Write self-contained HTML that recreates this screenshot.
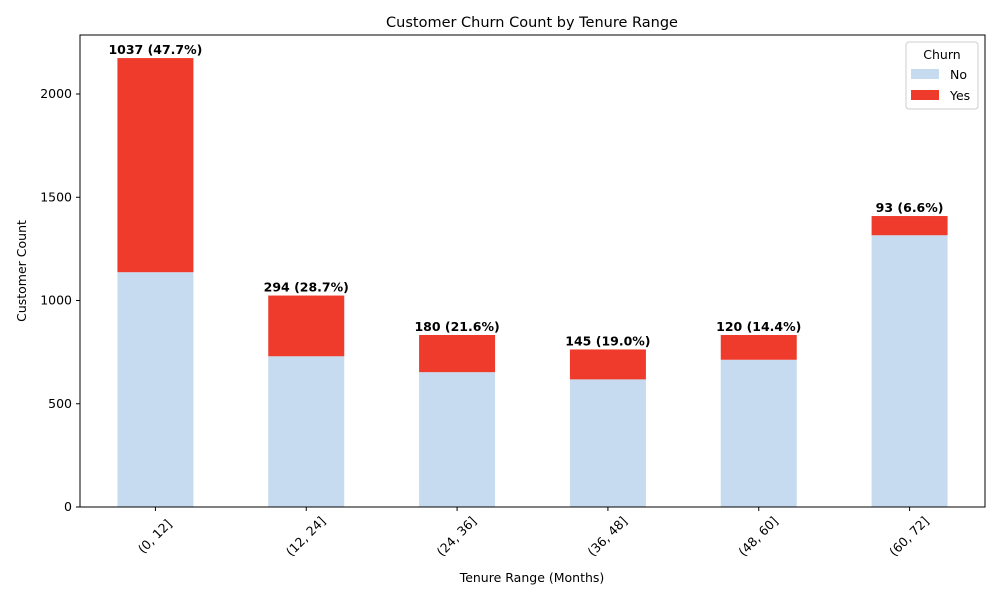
<!DOCTYPE html>
<html><head><meta charset="utf-8"><style>
body{margin:0;background:#fff;font-family:"Liberation Sans","DejaVu Sans",sans-serif}
</style></head><body>
<svg id="chart" width="1000" height="600" xmlns="http://www.w3.org/2000/svg" font-family="DejaVu Sans, Liberation Sans, sans-serif">
<rect width="1000" height="600" fill="#fff"/>
<text x="532" y="27" text-anchor="middle" font-size="14.5">Customer Churn Count by Tenure Range</text>
<g id="bars"></g>
<rect x="80" y="35" width="905" height="472" fill="none" stroke="#000" stroke-width="1"/>
<g id="axes" font-size="12"></g>
<text x="532" y="582" text-anchor="middle" font-size="12.5">Tenure Range (Months)</text>
<text transform="translate(26,271) rotate(-90)" text-anchor="middle" font-size="12.5">Customer Count</text>
<g>
<rect x="906" y="42" width="72" height="67" rx="3" fill="#fff" stroke="#ccc"/>
<text x="942" y="59" text-anchor="middle" font-size="12.5">Churn</text>
<rect x="911" y="69" width="28" height="10" fill="#c6dbef"/>
<text x="950" y="79" font-size="12.5">No</text>
<rect x="911" y="90" width="28" height="10" fill="#ef3b2c"/>
<text x="950" y="100" font-size="12.5">Yes</text>
</g>
</svg>
<script>
const categories=["(0, 12]","(12, 24]","(24, 36]","(36, 48]","(48, 60]","(60, 72]"];
const noValues=[1137,730,653,618,713,1316];
const yesValues=[1037,294,180,145,120,93];
const yTicks=[0,500,1000,1500,2000];
const NS="http://www.w3.org/2000/svg";
const x0=80,w=905,yBase=507,scale=413/2000;
const band=w/categories.length,bw=76;
const xc=i=>x0+band*(i+0.5);
const y=v=>yBase-v*scale;
const bars=document.getElementById('bars'),axes=document.getElementById('axes');
function mk(tag,attrs,parent){const e=document.createElementNS(NS,tag);for(const k in attrs)e.setAttribute(k,attrs[k]);parent.appendChild(e);return e;}
categories.forEach((c,i)=>{
  const n=noValues[i],s=yesValues[i],t=n+s;
  const r1=mk('rect',{x:xc(i)-bw/2,y:y(n),width:bw,height:n*scale,fill:'#c6dbef'},bars);
  
  
  const r2=mk('rect',{x:xc(i)-bw/2,y:y(t),width:bw,height:s*scale,fill:'#ef3b2c'},bars);
  
  
  const lb=mk('text',{x:xc(i),y:y(t)-4,'text-anchor':'middle','font-size':'12.5','font-weight':'bold'},bars);
  lb.textContent=s+' ('+(s/t*100).toFixed(1)+'%)';
  
  
  mk('line',{x1:xc(i),x2:xc(i),y1:507,y2:511,stroke:'#000'},axes);
  const tl=mk('text',{transform:`translate(${xc(i)},${537}) rotate(-45)`,'text-anchor':'middle','dominant-baseline':'middle','font-size':'12.5'},axes);
  tl.textContent=c;
  
  
});
yTicks.forEach(v=>{
  mk('line',{x1:76,x2:80,y1:y(v),y2:y(v),stroke:'#000'},axes);
  const t=mk('text',{x:72,y:y(v)+4,'text-anchor':'end','font-size':'12.5'},axes);
  t.textContent=v;
  
  
});
</script>
</body></html>
